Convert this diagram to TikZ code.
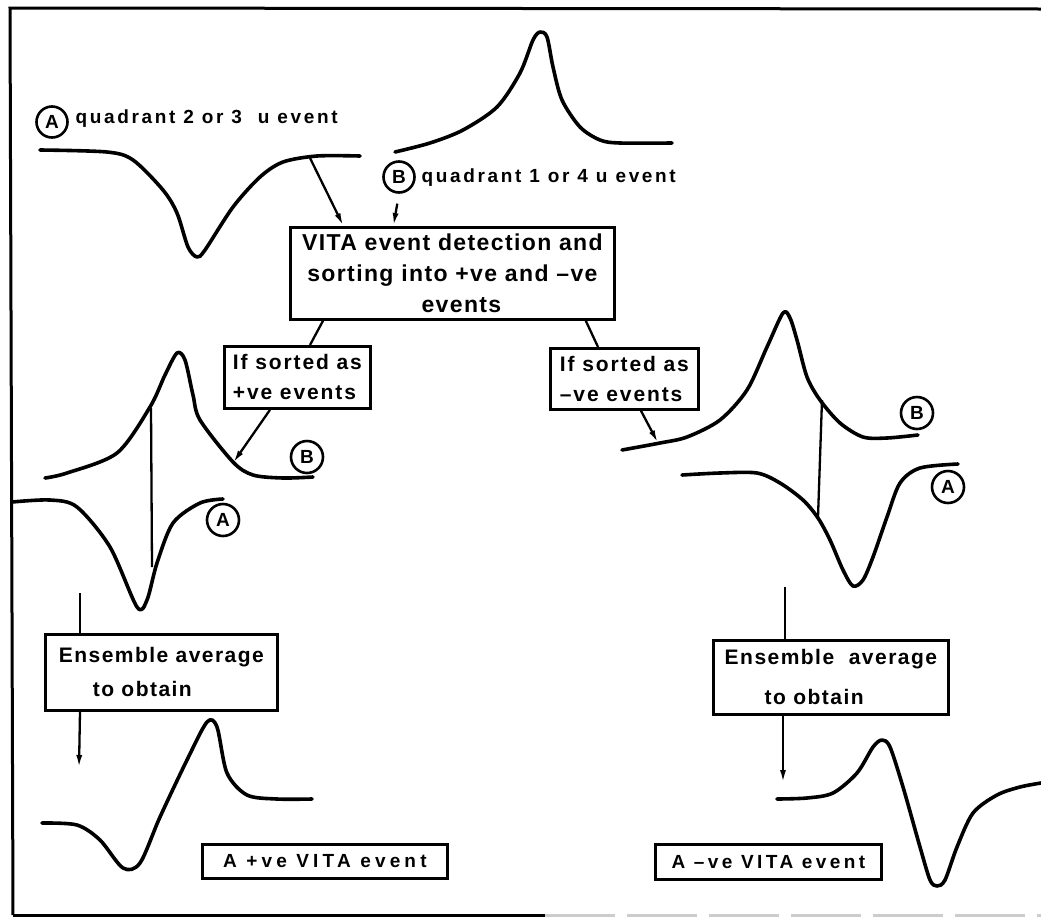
\documentclass[tikz,border=0pt]{standalone}
\usepackage{fontspec}
\setmainfont{Liberation Sans}
\usetikzlibrary{arrows.meta,positioning}

\begin{document}
\begin{tikzpicture}[x=1pt, y=-1pt,
  every node/.style={font=\bfseries\fontsize{21}{30}\selectfont\addfontfeature{LetterSpace=9}},
  label/.style={font=\bfseries\fontsize{19}{22}\selectfont\addfontfeature{LetterSpace=14}},
  box/.style={draw, line width=2.8pt, anchor=north west, inner sep=2pt},
  tag/.style={draw, circle, line width=2.6pt, minimum size=31pt, inner sep=0pt, font=\bfseries\fontsize{19}{19}\selectfont},
  wave/.style={line width=3.6pt, line cap=round, line join=round},
  link/.style={line width=2.3pt, -{Latex[length=13pt,width=6pt]}},
  tie/.style={line width=2.3pt}]
\useasboundingbox (0,0) rectangle (1041,919);
% frame
\draw[line width=3pt] (13,915) -- (10,8) -- (1041,9);
\draw[line width=3pt] (13,915) -- (545,915);
\draw[line width=3pt, gray!40, dash pattern=on 70pt off 12pt] (545,915) -- (1041,915);
% input events
\node[tag] (tagA) at (52,122) {A};
\node[label, anchor=west] (evA) at (72,119) {quadrant 2 or 3\ \ u event};
\draw[wave] plot[smooth] coordinates {(40,150) (107,152) (133,160) (163,190) (177,213) (188,247) (197,257) (205,250) (233,207) (260,177) (283,162) (317,156) (360,156)};
\node[tag] (tagB) at (399,177) {B};
\node[label, anchor=west] (evB) at (418,178) {quadrant 1 or 4 u\ event};
\draw[wave] plot[smooth] coordinates {(395,152) (430,143) (463,130) (497,107) (520,73) (533,40) (540,32) (547,37) (553,67) (562,100) (580,127) (600,140) (620,143) (672,143)};
% detection and sorting
\node[box, minimum width=324pt, minimum height=92pt, align=center, font=\bfseries\fontsize{23}{31}\selectfont\addfontfeature{LetterSpace=6}] (detect) at (289,226) {VITA event detection and\\sorting into +ve and –ve\\\hspace*{18pt}events};
\node[box, minimum width=146pt, minimum height=62pt, align=left] (posSort) at (223,345) {If sorted as\\+ve events};
\node[box, minimum width=148pt, minimum height=61pt, align=left] (negSort) at (549,347) {If sorted as\\–ve events};
\coordinate (dipA) at (310,158);
\draw[link] (dipA) -- ([xshift=-109pt]detect.north);
\draw[link, shorten <=10pt] (tagB.south) -- ([xshift=-59pt]detect.north);
\draw[tie] ([xshift=34pt]detect.south west) -- ([xshift=87pt]posSort.north west);
\draw[tie] ([xshift=-30pt]detect.south east) -- ([xshift=49pt]negSort.north west);
% +ve branch
\draw[wave] plot[smooth] coordinates {(45,478) (67,473) (117,453) (150,407) (165,375) (177,353) (185,360) (193,395) (200,420) (233,462) (253,475) (283,478) (313,477)};
\draw[wave] plot[smooth] coordinates {(12,502) (50,500) (77,507) (110,547) (137,607) (147,600) (157,563) (173,523) (200,503) (223,499)};
\draw[tie] (151,408) -- (152,567);
\node[tag, minimum size=32pt] (posB) at (307,457) {B};
\node[tag, minimum size=32pt] (posA) at (223,520) {A};
\coordinate (hitPos) at (233,463);
\draw[link] ([xshift=47pt]posSort.south west) -- (hitPos);
% -ve branch
\draw[wave] plot[smooth] coordinates {(622,450) (660,443) (687,437) (720,420) (747,390) (767,347) (783,313) (790,318) (797,340) (807,377) (820,400) (840,423) (863,437) (887,438) (918,435)};
\draw[wave] plot[smooth] coordinates {(682,475) (720,473) (757,473) (780,483) (803,500) (818,518) (830,540) (843,570) (853,586) (863,580) (873,557) (887,517) (900,483) (920,468) (958,464)};
\draw[tie] (822,400) -- (818,517);
\node[tag, minimum size=32pt] (negB) at (917,413) {B};
\node[tag, minimum size=32pt] (negA) at (948,487) {A};
\coordinate (hitNeg) at (658,443);
\draw[link] ([xshift=92pt]negSort.south west) -- (hitNeg);
% ensemble averages
\node[box, minimum width=232pt, minimum height=76pt, align=left, inner xsep=6pt, font=\bfseries\fontsize{21}{34}\selectfont\addfontfeature{LetterSpace=7}] (posAvg) at (44,633) {Ensemble average\\\hspace*{34pt}to obtain};
\node[box, minimum width=235pt, minimum height=74pt, align=left, inner xsep=6pt, font=\bfseries\fontsize{21}{40}\selectfont\addfontfeature{LetterSpace=7}] (negAvg) at (712,639) {Ensemble\ \ average\\\hspace*{40pt}to obtain};
\coordinate (posTop) at (80,593);
\draw[tie] (posTop) -- ([xshift=36pt]posAvg.north west);
\coordinate (posTip) at (79,768);
\draw[link] ([xshift=36pt]posAvg.south west) -- (posTip);
\coordinate (negTop) at (785,587);
\draw[tie] (negTop) -- ([xshift=73pt]negAvg.north west);
\coordinate (negTip) at (783,783);
\draw[link] ([xshift=71pt]negAvg.south west) -- (negTip);
% resulting events
\draw[wave] plot[smooth] coordinates {(42,823) (77,825) (100,840) (123,868) (140,863) (160,817) (187,760) (207,722) (217,727) (227,773) (247,795) (277,799) (312,799)};
\draw[wave] plot[smooth] coordinates {(777,799) (807,798) (833,793) (857,773) (873,747) (882,740) (890,747) (903,787) (920,847) (930,880) (937,886) (945,880) (957,847) (973,813) (997,795) (1020,787) (1041,783)};
\node[box, minimum width=245pt, minimum height=34pt, font=\bfseries\fontsize{19}{22}\selectfont\addfontfeature{LetterSpace=22}] (posRes) at (201,843) {A +ve VITA event};
\node[box, minimum width=226pt, minimum height=35pt, font=\bfseries\fontsize{19}{22}\selectfont\addfontfeature{LetterSpace=18}] (negRes) at (654,843) {A –ve VITA event};
\end{tikzpicture}
\end{document}
